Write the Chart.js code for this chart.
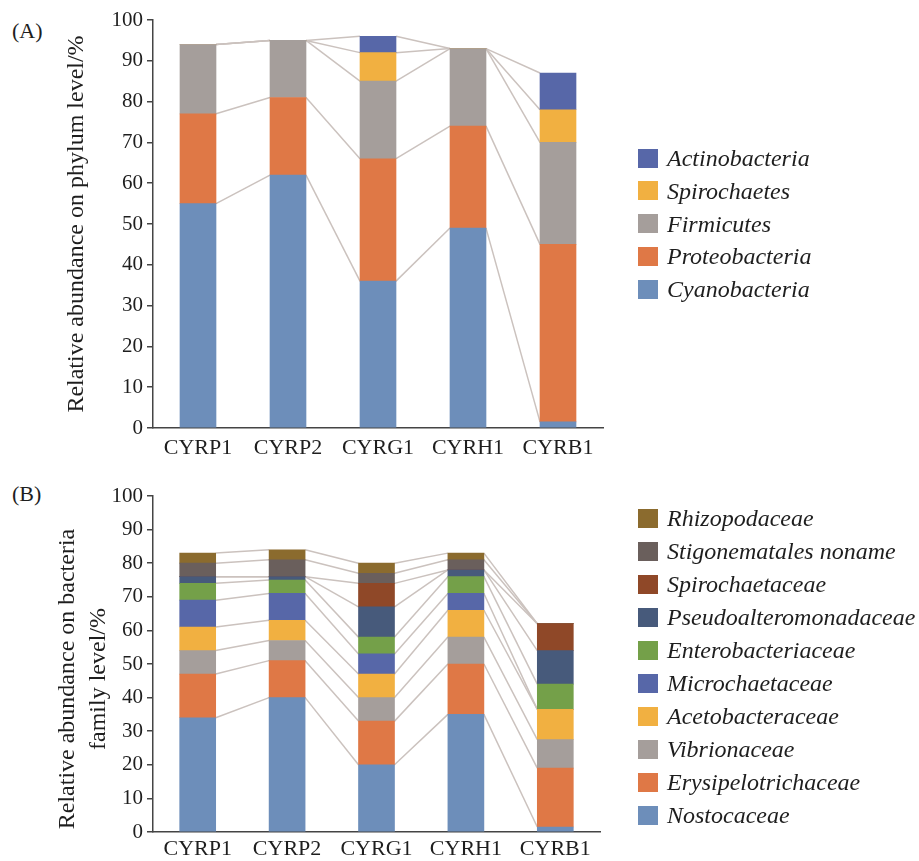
<!DOCTYPE html>
<html><head><meta charset="utf-8">
<script src="https://cdn.jsdelivr.net/npm/chart.js@4"></script>
<style>
body{margin:0;background:#fff;width:919px;height:861px;overflow:hidden;position:relative;font-family:'Liberation Serif','Times New Roman',serif;color:#1e1e1e;}
canvas{position:absolute;left:0;}
.panel{position:absolute;left:12px;font-size:22px;line-height:22px;}
.item{position:absolute;left:638px;height:24px;white-space:nowrap;display:flex;align-items:center;}
.sw{width:20px;height:19px;margin-right:9px;flex:none;}
.lab{font-style:italic;font-size:24px;line-height:24px;}
</style></head>
<body>
<div class="panel" style="top:20px">(A)</div>
<div class="panel" style="top:483px">(B)</div>
<canvas id="cA" width="919" height="460" style="top:0"></canvas>
<canvas id="cB" width="919" height="391" style="top:470px"></canvas>
<div id="legA"></div><div id="legB"></div>
<script>
// ---- data ----
const categories = ['CYRP1','CYRP2','CYRG1','CYRH1','CYRB1'];
const yTicks = [0,10,20,30,40,50,60,70,80,90,100];

// (A) phylum level
const phylumNames = ['Cyanobacteria','Proteobacteria','Firmicutes','Spirochaetes','Actinobacteria'];
const cyanobacteria  = [55, 62, 36, 49, 1.5];
const proteobacteria = [22, 19, 30, 25, 43.5];
const firmicutes     = [17, 14, 19, 19, 25];
const spirochaetes   = [0, 0, 7, 0, 8];
const actinobacteria = [0, 0, 4, 0, 9];

// (B) family level
const familyNames = ['Nostocaceae','Erysipelotrichaceae','Vibrionaceae','Acetobacteraceae','Microchaetaceae',
  'Enterobacteriaceae','Pseudoalteromonadaceae','Spirochaetaceae','Stigonematales noname','Rhizopodaceae'];
const nostocaceae            = [34, 40, 20, 35, 1.5];
const erysipelotrichaceae    = [13, 11, 13, 15, 17.5];
const vibrionaceae           = [7, 6, 7, 8, 8.5];
const acetobacteraceae       = [7, 6, 7, 8, 9];
const microchaetaceae        = [8, 8, 6, 5, 0];
const enterobacteriaceae     = [5, 4, 5, 5, 7.5];
const pseudoalteromonadaceae = [2, 1, 9, 2, 10];
const spirochaetaceae        = [0, 0, 7, 0, 8];
const stigonematalesNoname   = [4, 5, 3, 3, 0];
const rhizopodaceae          = [3, 3, 3, 2, 0];

// ---- styles ----
const phylumColors = ['#6d8eba','#df7846','#a59e9b','#f1b041','#5767a8'];
const familyColors = ['#6d8eba','#df7846','#a59e9b','#f1b041','#5767a8','#74a049','#475a7b','#8f4828','#6a5f5c','#8b6b2e'];
const FONT = "'Liberation Serif','Times New Roman',serif";
const SP = '\u00a0\u00a0\u00a0\u00a0\u00a0';

const seriesLines = {
  id:'seriesLines',
  beforeDatasetsDraw(chart){
    const ctx = chart.ctx; ctx.save();
    ctx.strokeStyle = '#cbc2be'; ctx.lineWidth = 1.5;
    chart.data.datasets.forEach((ds,di)=>{
      const meta = chart.getDatasetMeta(di);
      for(let i=0;i<meta.data.length-1;i++){
        const a = meta.data[i], b = meta.data[i+1];
        ctx.beginPath();
        ctx.moveTo(a.x + a.width/2, a.y);
        ctx.lineTo(b.x - b.width/2, b.y);
        ctx.stroke();
      }
    });
    ctx.restore();
  }
};

function makeChart(id, names, series, colors, cfg){
  return new Chart(document.getElementById(id), {
    type:'bar',
    data:{
      labels: categories,
      datasets: series.map((d,i)=>({label:names[i], data:d, backgroundColor:colors[i], borderWidth:0, barThickness:36}))
    },
    options:{
      responsive:false, animation:false,
      layout:{padding:{left:0,right:cfg.right,top:cfg.top,bottom:0}},
      plugins:{legend:{display:false}, tooltip:{enabled:false}},
      scales:{
        x:{stacked:true,
          grid:{display:false, drawTicks:false},
          border:{display:true, color:'#444', width:1.5},
          ticks:{color:'#1e1e1e', font:{family:FONT,size:22}, padding:cfg.xpad, maxRotation:0, autoSkip:false},
          afterFit(s){ s.height = cfg.xH; }
        },
        y:{stacked:true, min:0, max:100,
          afterBuildTicks(s){ s.ticks = yTicks.map(v=>({value:v})); },
          ticks:{color:'#1e1e1e', font:{family:FONT,size:21}, padding:4},
          grid:{drawOnChartArea:false, drawTicks:true, tickLength:6, color:'#444', lineWidth:1.5},
          border:{display:true, color:'#444', width:1.5},
          title:{display:true, text:cfg.title, color:'#1e1e1e', font:{family:FONT,size:24,lineHeight:1.3}, padding:{top:cfg.tpad,bottom:0}},
          afterFit(s){ s.width = 153; }
        }
      }
    },
    plugins:[seriesLines]
  });
}

makeChart('cA', phylumNames, [cyanobacteria,proteobacteria,firmicutes,spirochaetes,actinobacteria], phylumColors,
  {right:316, top:20, xH:32, xpad:7, title:'Relative abundance on phylum level/%', tpad:61});
makeChart('cB', familyNames, [nostocaceae,erysipelotrichaceae,vibrionaceae,acetobacteraceae,microchaetaceae,
  enterobacteriaceae,pseudoalteromonadaceae,spirochaetaceae,stigonematalesNoname,rhizopodaceae], familyColors,
  {right:319, top:26, xH:29, xpad:4, title:['Relative abundance on bacteria'+SP,'family level/%'+SP], tpad:52});

function legend(elId, names, colors, firstTop, step){
  const el = document.getElementById(elId);
  const n = names.length;
  for(let k=0;k<n;k++){
    const idx = n-1-k;
    const d = document.createElement('div');
    d.className='item';
    d.style.top = (firstTop + k*step) + 'px';
    d.innerHTML = '<div class="sw" style="background:'+colors[idx]+'"></div><span class="lab">'+names[idx]+'</span>';
    el.appendChild(d);
  }
}
legend('legA', phylumNames, phylumColors, 146, 32.75);
legend('legB', familyNames, familyColors, 506, 33.04);
</script>
</body></html>
